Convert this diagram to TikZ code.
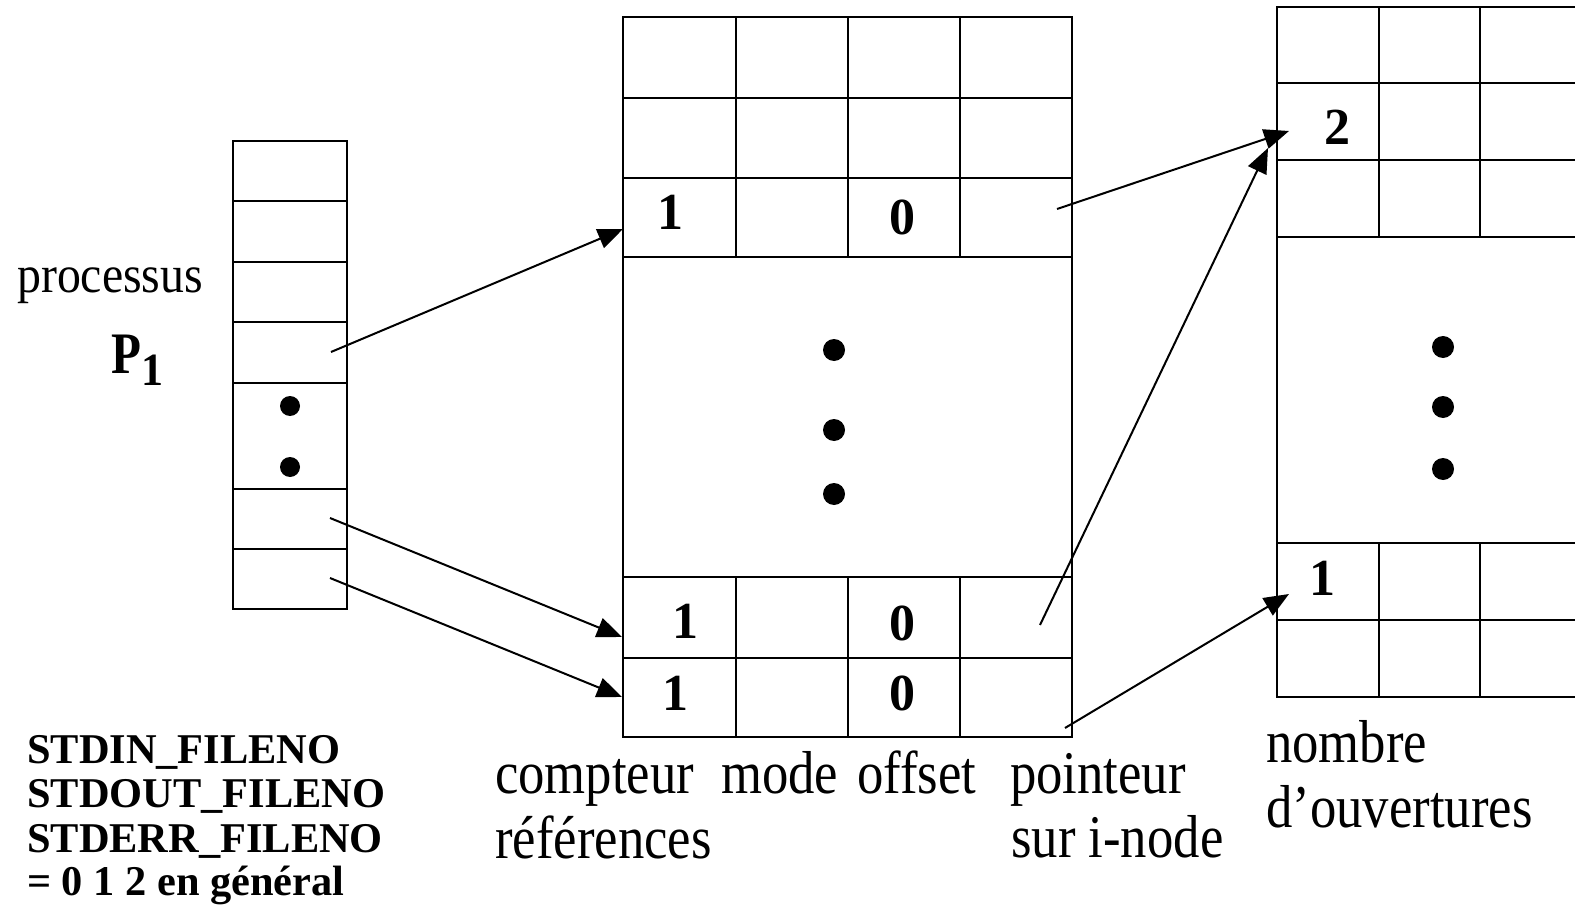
\documentclass[tikz,border=0pt]{standalone}
\usepackage{fontspec}
\setmainfont{Liberation Serif}
\usetikzlibrary{arrows.meta}
% vertically stretched text
\newcommand{\vstretch}[2]{\scalebox{1}[#1]{#2}}
\tikzset{
  tbl/.style={line width=2.6pt},
  ptr/.style={line width=2pt, -{Triangle[length=25pt,width=20pt]}},
  lbl/.style={font=\fontsize{52.7}{60}\selectfont, inner sep=0pt, anchor=base west},
  proclbl/.style={font=\fontsize{47.8}{56}\selectfont, inner sep=0pt, anchor=base west},
  stdlbl/.style={font=\bfseries\fontsize{42.4}{44}\selectfont, inner sep=0pt, anchor=base west},
  digit/.style={font=\bfseries\fontsize{52}{60}\selectfont, inner sep=0pt, anchor=base},
  dot/.style={fill=black}
}
\begin{document}
\begin{tikzpicture}[x=1pt,y=-1pt]
\useasboundingbox (0,0) rectangle (1575,920);
\clip (0,0) rectangle (1575,920);

% descriptor table of the process
\draw[tbl] (233,141) rectangle (347,609);
\foreach \yy in {201,262,322,383,489,549}
  \draw[tbl] (233,\yy) -- (347,\yy);
\fill[dot] (290,406) circle (10);
\fill[dot] (290,467) circle (10);

% open file table
\draw[tbl] (623,17) rectangle (1072,737);
\foreach \yy in {98,178,257,577,658}
  \draw[tbl] (623,\yy) -- (1072,\yy);
\foreach \xx in {736,848,960} {
  \draw[tbl] (\xx,17) -- (\xx,257);
  \draw[tbl] (\xx,577) -- (\xx,737);
}
\fill[dot] (834,350) circle (11);
\fill[dot] (834,430) circle (11);
\fill[dot] (834,494) circle (11);

% i-node table
\draw[tbl] (1600,7) -- (1277,7) -- (1277,697) -- (1600,697);
\foreach \yy in {83,160,237,543,620}
  \draw[tbl] (1277,\yy) -- (1600,\yy);
\foreach \xx in {1379,1480} {
  \draw[tbl] (\xx,7) -- (\xx,237);
  \draw[tbl] (\xx,543) -- (\xx,697);
}
\fill[dot] (1443,347) circle (11);
\fill[dot] (1443,407) circle (11);
\fill[dot] (1443,469) circle (11);

% table contents
\node[digit] (ma) at (670,230) {1};
\node[digit] (mb) at (902,235) {0};
\node[digit] (mc) at (685,638) {1};
\node[digit] (md) at (902,640) {0};
\node[digit] (me) at (675,710) {1};
\node[digit] (mf) at (902,710) {0};
\node[digit] (ia) at (1337,145) {2};
\node[digit] (ib) at (1322,595) {1};

% labels
\node[proclbl] (proc) at (17,292) {\vstretch{1.1}{processus}};
\node[font=\bfseries\fontsize{49}{50}\selectfont, inner sep=0pt, anchor=base west] (pname) at (111,373) {\vstretch{1.2}{P}};
\node[font=\bfseries\fontsize{44}{50}\selectfont, inner sep=0pt, anchor=base] (pidx) at (152,385) {\vstretch{1.05}{1}};

\node[stdlbl] (s1) at (27,763) {STDIN\_FILENO};
\node[stdlbl] (s2) at (27,807) {STDOUT\_FILENO};
\node[stdlbl] (s3) at (27,852) {STDERR\_FILENO};
\node[stdlbl] (s4) at (27,895) {= 0 1 2 en général};

\node[lbl] (c1) at (495,793) {\vstretch{1.15}{compteur}};
\node[lbl] (c2) at (721,793) {\vstretch{1.15}{mode}};
\node[lbl] (c3) at (857,793) {\vstretch{1.15}{offset}};
\node[lbl] (c4) at (1010,793) {\vstretch{1.15}{pointeur}};
\node[lbl] (c5) at (495,858) {\vstretch{1.15}{références}};
\node[lbl] (c6) at (1011,857) {\vstretch{1.15}{sur i-node}};
\node[lbl] (n1) at (1266,762) {\vstretch{1.15}{nombre}};
\node[lbl] (n2) at (1266,827) {\vstretch{1.15}{d’ouvertures}};

% pointers
\coordinate (a1s) at (331,352); \coordinate (a1t) at (623,229);
\coordinate (a2s) at (330,518); \coordinate (a2t) at (622,637);
\coordinate (a3s) at (330,578); \coordinate (a3t) at (622,697);
\coordinate (b1s) at (1057,209); \coordinate (b1t) at (1289,131);
\coordinate (b2s) at (1040,625); \coordinate (b2t) at (1268,148);
\coordinate (b3s) at (1065,728); \coordinate (b3t) at (1289,594);
\draw[ptr] (a1s) -- (a1t);
\draw[ptr] (a2s) -- (a2t);
\draw[ptr] (a3s) -- (a3t);
\draw[ptr] (b1s) -- (b1t);
\draw[ptr] (b2s) -- (b2t);
\draw[ptr] (b3s) -- (b3t);
\end{tikzpicture}
\end{document}
